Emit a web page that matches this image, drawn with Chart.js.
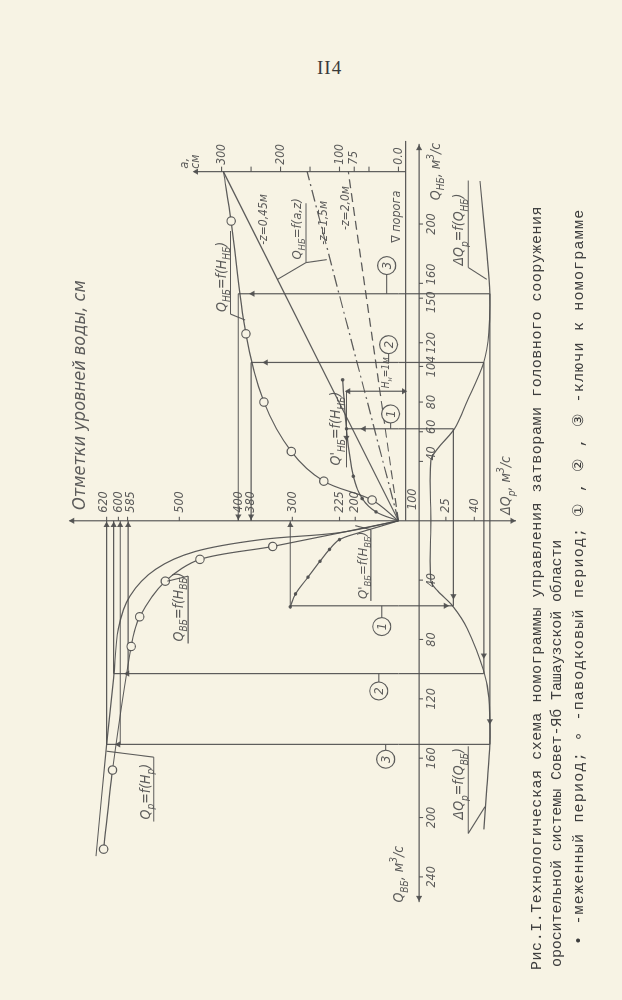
<!DOCTYPE html>
<html lang="ru">
<head>
<meta charset="UTF-8">
<title>Номограмма управления затворами</title>
<script src="https://cdn.jsdelivr.net/npm/chart.js"></script>
<style>
  body { margin: 0; width: 622px; height: 1000px; background: #f7f3e4; overflow: hidden; position: relative; }
  .page-num { position: absolute; left: 317px; top: 57px; font: 19px "Liberation Serif", serif; color: #3a3a3a; letter-spacing: 1px; }
  .sheet { position: absolute; left: -189px; top: 189px; width: 1000px; height: 622px; transform: rotate(-90deg); }
  .sheet canvas { position: absolute; left: 0; top: 0; }
  .cap { position: absolute; white-space: nowrap; font: 15px "Liberation Mono", monospace; color: #3d3d3d; letter-spacing: 0.55px; }
</style>
</head>
<body>
<div class="page-num">II4</div>
<div class="sheet">
  <canvas id="nomo" width="1000" height="622"></canvas>
  <div class="cap" style="left:30px; top:529px">Рис.I.Технологическая схема номограммы управления затворами головного сооружения</div>
  <div class="cap" style="left:33px; top:549px; letter-spacing:-0.1px">оросительной системы Совет-Яб Ташаузской области</div>
  <div class="cap" style="left:55px; top:569px; letter-spacing:1.2px">• -меженный период; ∘ -паводковый период; ① , ② , ③ -ключи к номограмме</div>
</div>
<script>
// ---------- данные, снятые с номограммы ----------
// отметки уровней воды, см
const hTicks = [620, 600, 585, 500, 400, 380, 300, 225, 200];
// расходы, м3/с
const qNbTicks = [40, 60, 80, 104, 120, 150, 160, 200];
const qVbTicks = [40, 80, 120, 160, 200, 240];
const dqTicks = [25, 40];
// открытие затвора a, см
const aTicks = [300, 200, 100, 75, 0];
const aMinor = [250, 150, 50];

// Q_НБ = f(H_НБ), паводковый период (кружки)
const nbFloodQ = [0, 14, 26.7, 46.7, 80, 126, 202, 235.3];
const nbFloodH = [100, 161, 250, 302, 355, 388, 412, 425];
// Q'_НБ = f(H_НБ), меженный период (точки)
const nbLowQ = [0, 6, 15, 30, 62, 95];
const nbLowH = [100, 152, 184, 203, 214, 220];
// Q_ВБ = f(H_ВБ), огибающая
const vbQ = [0, -8, -12.7, -20.7, -32.7, -50.7, -72.7, -106, -150.7, -226];
const vbH = [100, 225, 361, 473, 539, 581, 600, 608, 620, 638];
// Q_ВБ, Q_р паводковый период (кружки)
const vbFloodQ = [0, -17.3, -26, -40.7, -64.7, -84.7, -168, -221.3];
const vbFloodH = [100, 338, 465, 523, 565, 579, 610, 625];
// Q'_ВБ = f(H_ВБ), меженный период (точки)
const vbLowQ = [0, -4, -8, -12.7, -19.3, -27.3, -38, -49.3, -58];
const vbLowH = [100, 145, 191, 225, 241, 256, 275, 295, 304];
// ΔQр = f(Q_НБ) и ΔQр = f(Q_ВБ)
const dqNbQ = [0, 40.7, 48.7, 62, 80.7, 106.7, 127, 153, 180.7, 229];
const dqNbD = [17.1, 17.1, 20.7, 29.5, 36.3, 45, 47.7, 48.2, 46.6, 43];
const dqVbQ = [0, -40.7, -47.3, -57.3, -72.7, -101.3, -119.3, -150.7, -179.3, -208];
const dqVbD = [17.1, 17.1, 20.7, 28.5, 36.3, 45, 47.7, 48.2, 46.6, 45];
// лучи Q_НБ = f(a, z): открытие a на шкале при Q = rayQ
const rayZ = ['0,45', '1,5', '2,0'];
const rayA = [297, 155, 85];
const rayQ = 235.3;
// ключи 1, 2, 3
const keyQnb = [62, 106.7, 153];
const keyQvb = [-57.3, -103, -150.7];
const keyD = [29, 45, 48.2];
const keyHnb = [214, 380, 400];
const keyHvb = [304, 608, 620];
const keyHvbFlood = [null, 584, 597];

// ---------- шкала уровней (неравномерная, как на чертеже) ----------
const hKnots = [[100, 100], [200, 173.3], [300, 280], [380, 350], [400, 371.7], [500, 471.7], [600, 575], [620, 595]];
function warp(h) {
  const k = hKnots;
  if (h <= k[0][0]) return k[0][1] + (h - k[0][0]);
  for (let i = 1; i < k.length; i++) {
    if (h <= k[i][0]) {
      const [h0, l0] = k[i - 1], [h1, l1] = k[i];
      return l0 + (h - h0) * (l1 - l0) / (h1 - h0);
    }
  }
  const [hn, ln] = k[k.length - 1];
  return ln + (h - hn);
}
class WarpScale extends Chart.LinearScale {
  getPixelForValue(v) { return super.getPixelForValue(warp(v)); }
}
WarpScale.id = 'warp';
WarpScale.defaults = {};
Chart.register(WarpScale);

const INK = 'rgba(78,78,78,0.92)';
const PAPER = '#f7f3e4';
const FAMILY = '"DejaVu Sans Condensed", "DejaVu Sans", sans-serif';

const pts = (xs, ys) => xs.map((q, i) => ({ x: q, y: ys[i] }));
const seg = (q1, v1, q2, v2) => [{ x: q1, y: v1 }, { x: q2, y: v2 }];
function line(data, yAxisID, extra) {
  return Object.assign({ data, yAxisID, showLine: true, borderColor: INK, borderWidth: 1.2,
    pointRadius: 0, fill: false, tension: 0 }, extra || {});
}

const datasets = [];
// оси
datasets.push(line(seg(0, 100, 0, 683), 'yH'));
datasets.push(line(seg(0, 0, 0, 62), 'yD'));
datasets.push(line(seg(-257, 10.9, 254, 10.9), 'yD'));
datasets.push(line(seg(rayQ, -12, rayQ, 347), 'yA'));
datasets.push(line(seg(0, -12, 256, -12), 'yA'));            // ∇ порога
datasets.push(line(seg(87.3, -12, 87.3, 88), 'yA'));          // Hн = 1 м
// лучи
const dashes = [[], [12, 4, 2, 4], [9, 5]];
rayA.forEach((a, i) => datasets.push(line(seg(0, 0, rayQ, a), 'yA', { borderDash: dashes[i] })));
// кривые
datasets.push(line(pts(nbFloodQ, nbFloodH), 'yH', { tension: 0.35,
  pointRadius: c => (c.dataIndex === 0 || c.dataIndex === nbFloodQ.length - 1) ? 0 : 4.2,
  pointBackgroundColor: PAPER, pointBorderColor: INK, pointBorderWidth: 1.2 }));
datasets.push(line(pts(nbLowQ, nbLowH), 'yH', { tension: 0.35,
  pointRadius: c => c.dataIndex === 0 ? 0 : 1.8, pointBackgroundColor: INK, pointBorderWidth: 0 }));
datasets.push(line(pts(vbQ, vbH), 'yH', { tension: 0.35 }));
datasets.push(line(pts(vbFloodQ, vbFloodH), 'yH', { tension: 0.3,
  pointRadius: c => c.dataIndex === 0 ? 0 : 4.2,
  pointBackgroundColor: PAPER, pointBorderColor: INK, pointBorderWidth: 1.2 }));
datasets.push(line(pts(vbLowQ, vbLowH), 'yH', { tension: 0.35,
  pointRadius: c => c.dataIndex < 3 ? 0 : 1.8, pointBackgroundColor: INK, pointBorderWidth: 0 }));
datasets.push(line(pts(dqNbQ, dqNbD), 'yD', { tension: 0.3 }));
datasets.push(line(pts(dqVbQ, dqVbD), 'yD', { tension: 0.3 }));
// ключи
keyQnb.forEach((q, i) => {
  datasets.push(line(seg(q, keyD[i], q, 0), 'yD'));
  datasets.push(line(seg(q, 100, q, keyHnb[i]), 'yH'));
  if (i > 0) datasets.push(line(seg(q, keyHnb[i], 0, keyHnb[i]), 'yH'));
  datasets.push(line(seg(keyQvb[i], keyD[i], q, keyD[i]), 'yD'));
});
keyQvb.forEach((q, i) => {
  datasets.push(line(seg(q, keyD[i], q, 0), 'yD'));
  datasets.push(line(seg(q, 100, q, keyHvb[i]), 'yH'));
  datasets.push(line(seg(q, keyHvb[i], 0, keyHvb[i]), 'yH'));
  if (keyHvbFlood[i]) datasets.push(line(seg(q, keyHvbFlood[i], 0, keyHvbFlood[i]), 'yH'));
});
// стрелки
function arrows(list, yAxisID) {
  return { data: list.map(a => ({ x: a[0], y: a[1] })), yAxisID, pointStyle: 'triangle',
    rotation: list.map(a => a[2]), pointRadius: 3.6, backgroundColor: INK, borderColor: INK, borderWidth: 0 };
}
datasets.push(arrows([[0, 678, 0], [3, 400, 270], [3, 380, 270], [-3, 620, 90], [-3, 608, 90],
  [-3, 597, 90], [-3, 584, 90], [-3, 304, 90], [153, 377, 0], [106.7, 351, 0], [62, 180, 0],
  [-103, 585, 0], [-150.7, 600, 0], [56, 214, 270]], 'yH'));
datasets.push(arrows([[0, 60, 180], [251, 10.9, 90], [-254, 10.9, 270], [-50.7, 29, 270],
  [-90.7, 45, 270], [-135, 48.2, 270], [-57.3, 24.9, 180]], 'yD'));
datasets.push(arrows([[rayQ, 343, 0], [87.3, 85, 0], [87.3, -9, 180]], 'yA'));

// ---------- подписи ----------
const texts = [
  { t: 'Отметки уровней воды, см', q: 7.3, v: 531.7, ax: 'yA', s: 18 },
  { t: 'Q_{НБ}, м^{3}/с', q: 216, v: 21.8, ax: 'yD', s: 14 },
  { t: 'Q_{ВБ}, м^{3}/с', q: -257.3, v: 2.6, ax: 'yD', s: 14 },
  { t: 'ΔQ_{р}, м^{3}/с', q: 4, v: 59, ax: 'yD', s: 14 },
  { t: 'a,', q: 237.3, v: 356.7, ax: 'yA', s: 13 },
  { t: 'см', q: 237.3, v: 338, ax: 'yA', s: 12 },
  { t: '100', q: 7.3, v: 9.5, ax: 'yD', s: 12.5 },
  { t: '-z=0,45м', q: 186, v: 223.3, ax: 'yA', s: 12 },
  { t: '-z=1,5м', q: 186, v: 121.7, ax: 'yA', s: 12 },
  { t: '-z=2,0м', q: 196, v: 83.3, ax: 'yA', s: 12 },
  { t: '∇ порога', q: 187.3, v: -3, ax: 'yA', s: 12.5 },
  { t: 'H_{н}=1м', q: 89.3, v: 16.7, ax: 'yA', s: 10 },
  { t: 'Q_{НБ}=f(H_{НБ})', q: 140.7, v: 293.3, ax: 'yA', s: 14, ul: [139.3, 195.3, 285], ld: [[139.3, 285, 135.3, 260]] },
  { t: "Q'_{НБ}=f(H_{НБ})", q: 37.3, v: 98.3, ax: 'yA', s: 14, ul: [36, 87.3, 88] },
  { t: 'Q_{НБ}=f(a,z)', q: 176, v: 165, ax: 'yA', s: 13, ul: [174, 214, 156.7], ld: [[174, 156.7, 162.7, 205], [174, 156.7, 176, 121.7]] },
  { t: 'Q_{ВБ}=f(H_{ВБ})', q: -81.3, v: 365, ax: 'yA', s: 14, ul: [-82.7, -37.3, 356.7], ld: [[-37.3, 356.7, -40.7, 392]] },
  { t: 'Q_{р}=f(H_{р})', q: -201.3, v: 421.7, ax: 'yA', s: 14, ul: [-202.7, -159.3, 415], ld: [[-159.3, 415, -155.3, 495]] },
  { t: "Q'_{ВБ}=f(H_{ВБ})", q: -52.7, v: 53.3, ax: 'yA', s: 13, ul: [-54, -6, 46.7], ld: [[-6, 46.7, -3.3, 73.3]] },
  { t: 'ΔQ_{р}=f(Q_{НБ})', q: 172, v: 34.2, ax: 'yD', s: 14, ul: [170.7, 229.3, 36.8], ld: [[170.7, 36.8, 162.7, 46.6]] },
  { t: 'ΔQ_{р}=f(Q_{ВБ})', q: -201.3, v: 34.2, ax: 'yD', s: 14, ul: [-210.7, -152, 36.8], ld: [[-210.7, 36.8, -192.7, 45.6]] }
];
// кружки ключей: номер, Q центра, a центра, Q линии ключа
const keyMarks = [
  ['1', 72, 13.3, 62], ['2', 118.7, 16.7, 106.7], ['3', 172, 20, 153],
  ['1', -71.3, 28.3, -57.3], ['2', -114.7, 33.3, -103], ['3', -160.7, 21.7, -150.7]
];
const qNbShift = { 40: 8, 60: 5, 150: -4, 160: 9 };
const hShift = { 620: -3, 585: 3 };

function rich(ctx, str, x, y, size, align) {
  const parts = [];
  const re = /([_^])\{([^}]*)\}/g;
  let last = 0, m;
  while ((m = re.exec(str))) {
    if (m.index > last) parts.push({ t: str.slice(last, m.index), k: '' });
    parts.push({ t: m[2], k: m[1] });
    last = re.lastIndex;
  }
  if (last < str.length) parts.push({ t: str.slice(last), k: '' });
  const font = k => `italic ${k ? size * 0.72 : size}px ${FAMILY}`;
  let w = 0;
  parts.forEach(p => { ctx.font = font(p.k); p.w = ctx.measureText(p.t).width; w += p.w; });
  let cx = align === 'center' ? x - w / 2 : x;
  ctx.textAlign = 'left';
  parts.forEach(p => {
    ctx.font = font(p.k);
    const dy = p.k === '_' ? size * 0.3 : p.k === '^' ? -size * 0.42 : 0;
    ctx.fillText(p.t, cx, y + dy);
    cx += p.w;
  });
}

const drawing = {
  id: 'drawing',
  afterDatasetsDraw(chart) {
    const ctx = chart.ctx, sx = chart.scales.x;
    const P = (q, v, ax) => [sx.getPixelForValue(q), chart.scales[ax].getPixelForValue(v)];
    ctx.save();
    ctx.strokeStyle = INK; ctx.fillStyle = INK; ctx.lineWidth = 1.1;
    const stroke = (a, b) => { ctx.beginPath(); ctx.moveTo(a[0], a[1]); ctx.lineTo(b[0], b[1]); ctx.stroke(); };
    // деления и подписи шкалы уровней
    ctx.textBaseline = 'middle';
    hTicks.forEach(h => {
      const p = P(0, h, 'yH');
      stroke(p, [p[0] + 4, p[1]]);
      rich(ctx, String(h), p[0] + 8, p[1] + (hShift[h] || 0), 12.5, 'left');
    });
    dqTicks.forEach(d => {
      const p = P(0, d, 'yD');
      stroke(p, [p[0] + 4, p[1]]);
      rich(ctx, String(d), p[0] + 8, p[1], 12.5, 'left');
    });
    aTicks.concat(aMinor).forEach(a => {
      const p = P(rayQ, a, 'yA');
      stroke(p, [p[0] + 5, p[1]]);
      if (aTicks.includes(a)) rich(ctx, a === 0 ? '0.0' : String(a), p[0] + 7, p[1], 12, 'left');
    });
    ctx.textBaseline = 'alphabetic';
    qNbTicks.forEach(q => {
      const p = P(q, 10.9, 'yD');
      stroke(p, [p[0], p[1] + 4]);
      rich(ctx, String(q), p[0] + (qNbShift[q] || 0), p[1] + 16, 12.5, 'center');
    });
    qVbTicks.forEach(q => {
      const p = P(-q, 10.9, 'yD');
      stroke(p, [p[0], p[1] + 4]);
      rich(ctx, String(q), p[0], p[1] + 16, 12.5, 'center');
    });
    // подписи кривых, подчёркивания и выноски
    texts.forEach(o => {
      const p = P(o.q, o.v, o.ax);
      rich(ctx, o.t, p[0], p[1], o.s, 'left');
      if (o.ul) stroke(P(o.ul[0], o.ul[2], o.ax), P(o.ul[1], o.ul[2], o.ax));
      (o.ld || []).forEach(l => stroke(P(l[0], l[1], o.ax), P(l[2], l[3], o.ax)));
    });
    // кружки ключей
    ctx.textBaseline = 'middle';
    keyMarks.forEach(k => {
      const c = P(k[1], k[2], 'yA');
      const lx = sx.getPixelForValue(k[3]);
      const edge = c[0] + (lx > c[0] ? 9 : -9);
      stroke([edge, c[1]], [lx, c[1]]);
      ctx.beginPath(); ctx.arc(c[0], c[1], 9, 0, Math.PI * 2);
      ctx.fillStyle = PAPER; ctx.fill(); ctx.stroke();
      ctx.fillStyle = INK;
      rich(ctx, k[0], c[0], c[1] + 1, 13, 'center');
    });
    ctx.restore();
  }
};

new Chart(document.getElementById('nomo'), {
  type: 'scatter',
  data: { datasets },
  options: {
    responsive: false,
    animation: false,
    events: [],
    layout: { padding: 0 },
    plugins: { legend: { display: false }, tooltip: { enabled: false } },
    scales: {
      x: { type: 'linear', min: -319.33, max: 347.33, bounds: 'data', display: false },
      yH: { type: 'warp', position: 'left', min: -270, max: 766.67, bounds: 'data', display: false },
      yD: { type: 'linear', position: 'left', reverse: true, min: -207.25, max: 115.03, bounds: 'data', display: false },
      yA: { type: 'linear', position: 'left', min: -370, max: 666.67, bounds: 'data', display: false }
    }
  },
  plugins: [drawing]
});
</script>
</body>
</html>
